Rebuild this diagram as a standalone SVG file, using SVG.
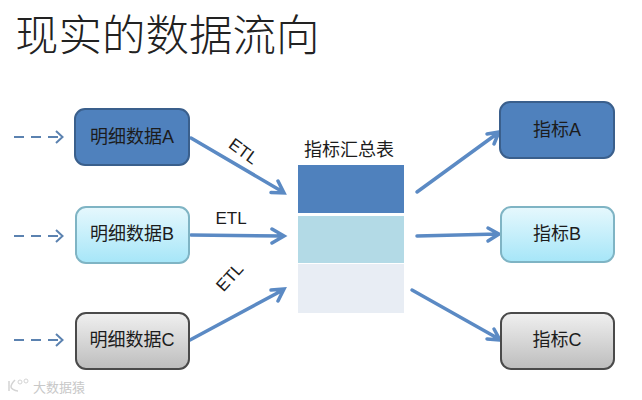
<svg xmlns="http://www.w3.org/2000/svg" width="642" height="400" viewBox="0 0 642 400">
<style>
text{font-family:"Liberation Sans","Noto Sans CJK SC",sans-serif;fill:#1c1c1c}
.lbl{font-size:18px;text-anchor:middle}
.etl{font-size:17px;text-anchor:middle}
.box{stroke-width:2}
.blue{fill:#4f81bd;stroke:#3a5f8c}
.cyan{fill:url(#gc);stroke:#7fb4c4}
.gray{fill:url(#gg);stroke:#4a4a4a}
.conn{fill:none;stroke:#5b8ac4;stroke-width:3.500;stroke-linecap:round;stroke-linejoin:miter}
.dash{fill:none;stroke:#5b82b0;stroke-width:2}
</style>
<defs>
<linearGradient id="gc" x1="0" y1="0" x2="0" y2="1"><stop offset="0" stop-color="#e6f8fd"/><stop offset="1" stop-color="#a6e6f8"/></linearGradient>
<linearGradient id="gg" x1="0" y1="0" x2="0" y2="1"><stop offset="0" stop-color="#f0f0f0"/><stop offset="1" stop-color="#bdbdbd"/></linearGradient>
</defs>
<rect width="642" height="400" fill="#fff"/>
<text x="15" y="51" font-size="43.500" style="fill:#222;font-family:'Noto Sans CJK SC','Liberation Sans',sans-serif;font-weight:300">现实的数据流向</text>
<g id="connectors">
<path class="dash" stroke-dasharray="10 7" d="M14 137H60"/><path class="dash" d="M56 131l6.500 6-6.500 6"/>
<path class="dash" stroke-dasharray="10 7" d="M14 236H60"/><path class="dash" d="M56 230l6.500 6-6.500 6"/>
<path class="dash" stroke-dasharray="10 7" d="M14 340H60"/><path class="dash" d="M56 334l6.500 6-6.500 6"/>
<path class="conn" d="M191 138L283 192M271 192.500L284 193L278 181"/>
<path class="conn" d="M191 235L283 236M272 229L284 236L272 243"/>
<path class="conn" d="M190 340L283 290M271 290L284 289L278 301"/>
<path class="conn" d="M417 192L498 133M487 134L499 132L494 144"/>
<path class="conn" d="M417 236L498 234M488 228L499 234L488 241"/>
<path class="conn" d="M412 290L499 339M487 339L500 340L494 329"/>
</g>
<g id="etl-labels">
<text class="etl" transform="translate(240 156) rotate(36)">ETL</text>
<text class="etl" x="231" y="224">ETL</text>
<text class="etl" transform="translate(234 281) rotate(-48)">ETL</text>
</g>
<g id="n-a"><rect class="box blue" x="75" y="109" width="114" height="56" rx="10"/><text class="lbl" x="132" y="143">明细数据A</text></g>
<g id="n-b"><rect class="box cyan" x="76" y="207" width="113" height="56" rx="10"/><text class="lbl" x="132" y="240">明细数据B</text></g>
<g id="n-c"><rect class="box gray" x="76" y="313" width="113" height="56" rx="10"/><text class="lbl" x="132" y="346">明细数据C</text></g>
<g id="table">
<text class="lbl" x="349" y="156">指标汇总表</text>
<rect x="298" y="165" width="106" height="48" fill="#4f81bd"/>
<rect x="298" y="216" width="106" height="47" fill="#b3dae6"/>
<rect x="298" y="264" width="106" height="49" fill="#e8edf4"/>
</g>
<g id="m-a"><rect class="box blue" x="500" y="102" width="114" height="56" rx="10"/><text class="lbl" x="557" y="136">指标A</text></g>
<g id="m-b"><rect class="box cyan" x="501" y="207" width="113" height="55" rx="10"/><text class="lbl" x="557" y="240">指标B</text></g>
<g id="m-c"><rect class="box gray" x="501" y="313" width="113" height="56" rx="10"/><text class="lbl" x="557" y="346">指标C</text></g>
<g id="watermark"><path d="M9 381v10M15 380c-3 3-4 6-4 7s3 4 7 4" fill="none" stroke="#d4d4d4" stroke-width="1.500"/><circle cx="20" cy="382" r="2" fill="none" stroke="#d4d4d4"/><circle cx="26" cy="381" r="2" fill="none" stroke="#d4d4d4"/><text x="33" y="392" font-size="13" style="fill:#c8c8c8">大数据猿</text></g>
</svg>
